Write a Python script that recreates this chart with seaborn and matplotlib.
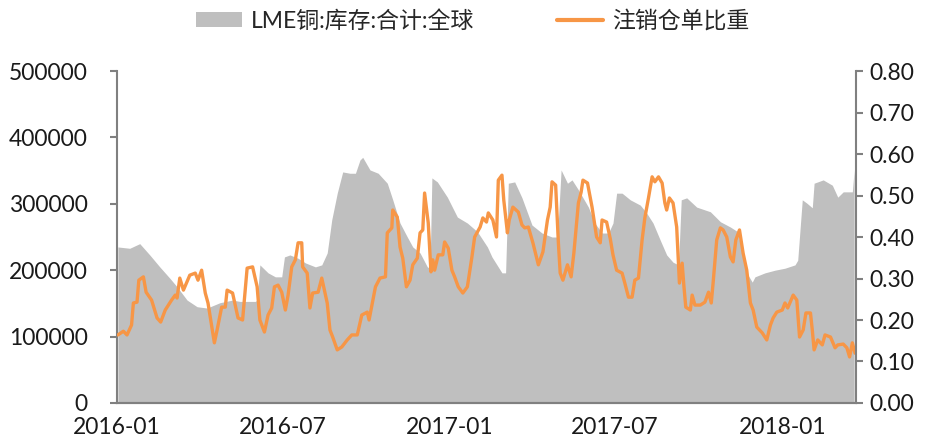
import pandas as pd
import matplotlib
matplotlib.use("Agg")
import matplotlib.pyplot as plt
import matplotlib.dates as mdates
from matplotlib.patches import Patch
from matplotlib.lines import Line2D
import seaborn as sns

# LME copper stocks (tonnes)
stock_dates = [
    "2016-01-02", "2016-01-15", "2016-01-26", "2016-02-06", "2016-02-17", "2016-02-28",
    "2016-03-07", "2016-03-18", "2016-03-29", "2016-04-09", "2016-04-23", "2016-05-07",
    "2016-05-15", "2016-06-01", "2016-06-03", "2016-06-06", "2016-06-15", "2016-06-23",
    "2016-06-30", "2016-07-03", "2016-07-09", "2016-07-18", "2016-07-26", "2016-08-06",
    "2016-08-13", "2016-08-19", "2016-08-24", "2016-08-30", "2016-09-05", "2016-09-13",
    "2016-09-19", "2016-09-24", "2016-09-27", "2016-10-05", "2016-10-14", "2016-10-24",
    "2016-10-30", "2016-11-07", "2016-11-15", "2016-11-21", "2016-11-29", "2016-12-07",
    "2016-12-10", "2016-12-12", "2016-12-18", "2016-12-29", "2017-01-09", "2017-01-20",
    "2017-01-31", "2017-02-11", "2017-02-16", "2017-02-27", "2017-03-03", "2017-03-06",
    "2017-03-13", "2017-03-21", "2017-04-01", "2017-04-12", "2017-04-23", "2017-04-29",
    "2017-05-03", "2017-05-10", "2017-05-15", "2017-05-22", "2017-06-02", "2017-06-09",
    "2017-06-17", "2017-06-24", "2017-06-29", "2017-07-03", "2017-07-09", "2017-07-18",
    "2017-07-29", "2017-08-05", "2017-08-12", "2017-08-20", "2017-08-27", "2017-09-03",
    "2017-09-09", "2017-09-12", "2017-09-18", "2017-09-29", "2017-10-14", "2017-10-25",
    "2017-11-05", "2017-11-13", "2017-11-18", "2017-11-23", "2017-11-29", "2017-12-02",
    "2017-12-13", "2017-12-24", "2018-01-04", "2018-01-15", "2018-01-18", "2018-01-23",
    "2018-01-28", "2018-02-03", "2018-02-05", "2018-02-15", "2018-02-25", "2018-03-03",
    "2018-03-09", "2018-03-19", "2018-03-21",
]
stock_values = [
    235000, 233000, 240000, 223000, 205000, 188000,
    175000, 155000, 145000, 143000, 151000, 155000,
    153000, 153000, 155000, 208000, 196000, 190000,
    190000, 220000, 223000, 218000, 211000, 205000,
    208000, 226000, 276000, 316000, 348000, 346000,
    346000, 366000, 370000, 351000, 346000, 331000,
    306000, 271000, 250000, 235000, 226000, 205000,
    203000, 339000, 333000, 310000, 280000, 271000,
    258000, 235000, 220000, 196000, 196000, 331000,
    333000, 309000, 268000, 256000, 250000, 250000,
    351000, 331000, 336000, 321000, 295000, 271000,
    256000, 256000, 271000, 316000, 316000, 306000,
    298000, 286000, 271000, 245000, 223000, 212000,
    208000, 306000, 309000, 295000, 288000, 273000,
    265000, 258000, 226000, 196000, 182000, 190000,
    196000, 200000, 203000, 208000, 215000, 306000,
    301000, 294000, 331000, 336000, 328000, 310000,
    318000, 318000, 351000,
]

# share of cancelled warrants
ratio_dates = [
    "2016-01-02", "2016-01-08", "2016-01-12", "2016-01-17", "2016-01-19", "2016-01-23",
    "2016-01-25", "2016-01-30", "2016-02-02", "2016-02-08", "2016-02-14", "2016-02-18",
    "2016-02-23", "2016-03-01", "2016-03-05", "2016-03-07", "2016-03-10", "2016-03-14",
    "2016-03-21", "2016-03-27", "2016-03-30", "2016-04-03", "2016-04-07", "2016-04-10",
    "2016-04-17", "2016-04-20", "2016-04-25", "2016-04-29", "2016-05-01", "2016-05-07",
    "2016-05-13", "2016-05-18", "2016-05-23", "2016-05-29", "2016-06-03", "2016-06-06",
    "2016-06-11", "2016-06-15", "2016-06-19", "2016-06-22", "2016-06-26", "2016-06-30",
    "2016-07-04", "2016-07-07", "2016-07-11", "2016-07-15", "2016-07-18", "2016-07-22",
    "2016-07-23", "2016-07-28", "2016-07-31", "2016-08-03", "2016-08-09", "2016-08-13",
    "2016-08-19", "2016-08-22", "2016-08-25", "2016-08-30", "2016-09-04", "2016-09-10",
    "2016-09-15", "2016-09-21", "2016-09-26", "2016-10-02", "2016-10-04", "2016-10-11",
    "2016-10-16", "2016-10-22", "2016-10-24", "2016-10-29", "2016-10-30", "2016-11-04",
    "2016-11-07", "2016-11-10", "2016-11-14", "2016-11-18", "2016-11-21", "2016-11-26",
    "2016-11-29", "2016-12-02", "2016-12-04", "2016-12-08", "2016-12-11", "2016-12-13",
    "2016-12-15", "2016-12-19", "2016-12-24", "2016-12-26", "2016-12-30", "2017-01-03",
    "2017-01-06", "2017-01-10", "2017-01-15", "2017-01-20", "2017-01-25", "2017-01-28",
    "2017-02-03", "2017-02-06", "2017-02-10", "2017-02-12", "2017-02-17", "2017-02-21",
    "2017-02-23", "2017-02-27", "2017-03-01", "2017-03-05", "2017-03-07", "2017-03-11",
    "2017-03-17", "2017-03-21", "2017-03-24", "2017-03-28", "2017-04-02", "2017-04-08",
    "2017-04-13", "2017-04-18", "2017-04-21", "2017-04-23", "2017-04-27", "2017-04-30",
    "2017-05-02", "2017-05-05", "2017-05-10", "2017-05-14", "2017-05-17", "2017-05-22",
    "2017-05-25", "2017-05-27", "2017-06-01", "2017-06-06", "2017-06-11", "2017-06-15",
    "2017-06-17", "2017-06-22", "2017-06-26", "2017-06-29", "2017-07-03", "2017-07-09",
    "2017-07-12", "2017-07-16", "2017-07-20", "2017-07-23", "2017-07-27", "2017-07-31",
    "2017-08-03", "2017-08-07", "2017-08-11", "2017-08-14", "2017-08-18", "2017-08-22",
    "2017-08-25", "2017-08-27", "2017-08-30", "2017-09-03", "2017-09-07", "2017-09-10",
    "2017-09-13", "2017-09-15", "2017-09-17", "2017-09-22", "2017-09-24", "2017-09-27",
    "2017-10-03", "2017-10-08", "2017-10-12", "2017-10-15", "2017-10-17", "2017-10-21",
    "2017-10-25", "2017-10-28", "2017-11-01", "2017-11-05", "2017-11-08", "2017-11-11",
    "2017-11-15", "2017-11-19", "2017-11-23", "2017-11-27", "2017-11-30", "2017-12-04",
    "2017-12-10", "2017-12-15", "2017-12-19", "2017-12-22", "2017-12-26", "2018-01-01",
    "2018-01-04", "2018-01-07", "2018-01-13", "2018-01-17", "2018-01-20", "2018-01-24",
    "2018-01-27", "2018-02-01", "2018-02-03", "2018-02-05", "2018-02-09", "2018-02-14",
    "2018-02-17", "2018-02-23", "2018-02-28", "2018-03-03", "2018-03-09", "2018-03-13",
    "2018-03-16", "2018-03-19", "2018-03-22",
]
ratio_values = [
    0.164, 0.173, 0.164, 0.188, 0.241, 0.243,
    0.296, 0.304, 0.267, 0.248, 0.205, 0.195,
    0.224, 0.248, 0.260, 0.253, 0.301, 0.272,
    0.308, 0.313, 0.296, 0.320, 0.265, 0.241,
    0.145, 0.176, 0.231, 0.231, 0.272, 0.265,
    0.205, 0.200, 0.325, 0.328, 0.280, 0.200,
    0.171, 0.212, 0.229, 0.280, 0.284, 0.267,
    0.224, 0.260, 0.328, 0.345, 0.386, 0.386,
    0.328, 0.313, 0.229, 0.265, 0.267, 0.301,
    0.241, 0.176, 0.159, 0.128, 0.135, 0.152,
    0.164, 0.164, 0.212, 0.219, 0.200, 0.280,
    0.301, 0.304, 0.410, 0.422, 0.465, 0.448,
    0.376, 0.349, 0.280, 0.296, 0.333, 0.349,
    0.410, 0.417, 0.506, 0.434, 0.316, 0.345,
    0.320, 0.357, 0.357, 0.388, 0.373, 0.320,
    0.304, 0.280, 0.265, 0.280, 0.352, 0.400,
    0.424, 0.446, 0.436, 0.458, 0.441, 0.400,
    0.537, 0.549, 0.489, 0.410, 0.441, 0.472,
    0.460, 0.429, 0.422, 0.424, 0.386, 0.333,
    0.364, 0.441, 0.472, 0.533, 0.525, 0.386,
    0.313, 0.296, 0.333, 0.304, 0.361, 0.482,
    0.508, 0.537, 0.530, 0.472, 0.400, 0.386,
    0.441, 0.436, 0.396, 0.357, 0.320, 0.313,
    0.289, 0.255, 0.255, 0.296, 0.301, 0.393,
    0.446, 0.494, 0.545, 0.533, 0.545, 0.530,
    0.482, 0.465, 0.494, 0.482, 0.424, 0.289,
    0.337, 0.280, 0.231, 0.224, 0.260, 0.236,
    0.236, 0.243, 0.267, 0.241, 0.289, 0.393,
    0.422, 0.417, 0.400, 0.352, 0.340, 0.393,
    0.417, 0.361, 0.320, 0.241, 0.224, 0.183,
    0.169, 0.152, 0.188, 0.205, 0.219, 0.224,
    0.241, 0.229, 0.260, 0.248, 0.159, 0.176,
    0.217, 0.217, 0.176, 0.128, 0.152, 0.140,
    0.164, 0.159, 0.133, 0.140, 0.142, 0.133,
    0.111, 0.145, 0.120,
]

stock_label = "LME铜:库存:合计:全球"
ratio_label = "注销仓单比重"

stock_df = pd.DataFrame({"date": pd.to_datetime(stock_dates), "stock": stock_values})
ratio_df = pd.DataFrame({"date": pd.to_datetime(ratio_dates), "ratio": ratio_values})

sns.set_style("white")
plt.rcParams["font.family"] = ["Lato", "Noto Sans CJK SC", "DejaVu Sans"]

gray = "#BFBFBF"
orange = "#F79646"
axis_col = "#808080"

fig = plt.figure(figsize=(9.3, 4.43), dpi=100)
ax = fig.add_axes([0.1258, 0.0903, 0.7946, 0.7494])
ax2 = ax.twinx()

ax.fill_between(stock_df["date"], stock_df["stock"], 0, color=gray, linewidth=0)
sns.lineplot(data=ratio_df, x="date", y="ratio", ax=ax2, color=orange, linewidth=2.4)

ax.set_xlim(pd.Timestamp("2016-01-01"), pd.Timestamp("2018-03-23"))
ax.set_ylim(0, 500000)
ax2.set_ylim(0, 0.8)
ax.set_yticks(range(0, 500001, 100000))
ax2.set_yticks([i / 10 for i in range(9)])
ax2.yaxis.set_major_formatter(matplotlib.ticker.FormatStrFormatter("%.2f"))
ax.xaxis.set_major_locator(mdates.MonthLocator(bymonth=[1, 7]))
ax.xaxis.set_major_formatter(mdates.DateFormatter("%Y-%m"))

for a in (ax, ax2):
    a.set_xlabel("")
    a.set_ylabel("")
    a.grid(False)
    for side in ("left", "right", "bottom"):
        a.spines[side].set_color(axis_col)
        a.spines[side].set_linewidth(1.5)
    a.spines["top"].set_visible(False)
    a.tick_params(axis="both", colors=axis_col, labelcolor="#1a1a1a",
                  labelsize=16.5, length=5, width=1.5, direction="out")
ax.spines["right"].set_visible(False)
ax2.spines["left"].set_visible(False)
ax.tick_params(axis="x", pad=5)
ax.tick_params(axis="y", pad=16)
ax2.tick_params(axis="y", pad=5)

handles = [Patch(facecolor=gray, edgecolor="none"),
           Line2D([0], [0], color=orange, linewidth=3)]
fig.legend(handles, [stock_label, ratio_label], loc="upper center",
           bbox_to_anchor=(0.508, 1.025), ncol=2, frameon=False, fontsize=16.5,
           handlelength=2.0, handleheight=0.6, columnspacing=3.6, handletextpad=0.4)

fig.savefig("out.png", dpi=100)
